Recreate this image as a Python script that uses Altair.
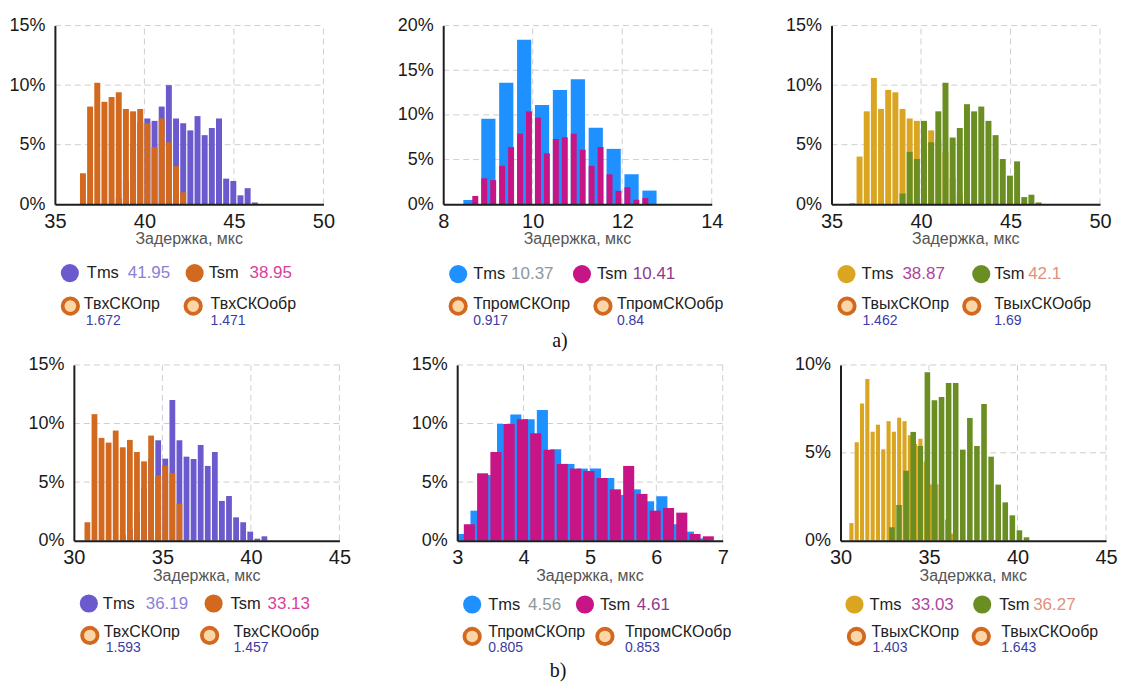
import altair as alt
import pandas as pd

SANS = "'Liberation Sans', Arial, sans-serif"
NARROW = "'Liberation Sans Narrow', 'Arial Narrow', 'Liberation Sans', sans-serif"
SERIF = "'Liberation Serif', 'DejaVu Serif', serif"

# ---------------------------------------------------------------
# Histogram data: first bin start, bin width and share of samples (%)
# ---------------------------------------------------------------
# a) input stage (Твх)
a_in_tms_start, a_in_tms_step = 38.4, 0.4
a_in_tms_pct = [0.5, 1.9, 5.0, 6.85, 7.2, 7.0, 8.2, 10.0, 7.2, 6.8, 6.2, 7.4,
                5.8, 6.4, 7.2, 2.15, 1.95, 0.75, 1.35, 0.15]
a_in_tsm_start, a_in_tsm_step = 36.4, 0.4
a_in_tsm_pct = [2.6, 8.2, 10.2, 8.6, 9.0, 9.4, 8.0, 7.8, 8.0, 6.8, 4.8, 7.2,
                5.2, 3.2, 1.0]

# a) intermediate stage (Тпром)
a_mid_tms_start, a_mid_tms_step = 8.45, 0.4
a_mid_tms_pct = [0.48, 9.57, 13.6, 18.4, 11.1, 12.8, 14.0, 8.57, 6.2, 3.35, 1.53]
a_mid_tsm_start, a_mid_tsm_step = 8.65, 0.2
a_mid_tsm_pct = [0.93, 2.9, 2.7, 4.3, 6.4, 7.9, 10.4, 9.7, 5.7, 7.3, 7.5, 7.9,
                 6.1, 4.3, 6.4, 3.35, 1.5, 1.9, 0.5, 0.7]

# a) output stage (Твых)
a_out_tms_start, a_out_tms_step = 36.0, 0.4
a_out_tms_pct = [0.1, 4.0, 7.8, 10.6, 8.0, 9.6, 9.4, 8.0, 7.2, 7.0, 6.9, 6.2,
                 5.4, 4.4, 2.2, 0.9, 0.2]
a_out_tsm_start, a_out_tsm_step = 38.8, 0.4
a_out_tsm_pct = [0.9, 4.4, 3.8, 7.0, 5.2, 7.8, 10.2, 5.6, 6.4, 8.4, 7.8, 8.2,
                 7.0, 5.8, 3.8, 2.4, 3.6, 0.6, 0.8, 0.15]

# b) input stage (Твх)
b_in_tms_start, b_in_tms_step = 32.6, 0.4
b_in_tms_pct = [0.5, 1.0, 2.5, 4.5, 7.0, 8.57, 7.0, 12.0, 8.57, 7.17, 6.97,
                8.17, 6.38, 7.57, 3.39, 3.81, 1.99, 1.57, 0.77, 0.17, 0.37]
b_in_tsm_start, b_in_tsm_step = 30.6, 0.4
b_in_tsm_pct = [1.57, 10.8, 8.77, 8.37, 9.4, 7.97, 8.6, 7.57, 6.77, 8.97, 5.58,
                6.4, 5.78, 3.16]

# b) intermediate stage (Тпром)
b_mid_tms_start, b_mid_tms_step = 3.0, 0.2
b_mid_tms_pct = [0.57, 2.56, 5.6, 9.96, 10.76, 10.36, 11.16, 7.8, 6.55, 6.15,
                 6.15, 5.35, 3.9, 4.38, 3.36, 3.79, 1.4, 0.77, 0.2]
b_mid_tsm_start, b_mid_tsm_step = 3.1, 0.2
b_mid_tsm_pct = [1.4, 5.75, 7.57, 9.96, 10.36, 9.17, 7.77, 6.55, 6.15, 5.95,
                 5.35, 4.38, 6.38, 3.99, 2.56, 2.79, 2.39, 0.57, 0.37]

# b) output stage (Твых)
b_out_tms_start, b_out_tms_step = 30.5, 0.3
b_out_tms_pct = [1.0, 5.6, 7.8, 9.2, 6.2, 6.6, 5.2, 6.8, 6.2, 7.0, 6.8, 6.0,
                 5.5, 5.8, 4.5, 3.2, 3.2, 2.0, 1.2, 0.4]
b_out_tsm_start, b_out_tsm_step = 32.75, 0.4
b_out_tsm_pct = [0.76, 2.03, 3.98, 6.19, 5.39, 9.58, 7.99, 8.18, 8.98, 8.98,
                 5.18, 6.98, 5.39, 7.78, 4.78, 3.19, 2.18, 1.44, 0.59, 0.19]

# Means and standard deviations shown under each histogram
stats_means = [("41.95", "38.95"), ("10.37", "10.41"), ("38.87", "42.1"),
               ("36.19", "33.13"), ("4.56", "4.61"), ("33.03", "36.27")]
stats_sd = [("1.672", "1.471"), ("0.917", "0.84"), ("1.462", "1.69"),
            ("1.593", "1.457"), ("0.805", "0.853"), ("1.403", "1.643")]
sd_names = [("ТвхСКОпр", "ТвхСКОобр"), ("ТпромСКОпр", "ТпромСКОобр"),
            ("ТвыхСКОпр", "ТвыхСКОобр")]

x_ticks_in = [35, 40, 45, 50]
x_ticks_mid_a = [8, 10, 12, 14]
x_ticks_b = [30, 35, 40, 45]
x_ticks_mid_b = [3, 4, 5, 6, 7]

# ---------------------------------------------------------------
# Layout: a 3 x 2 grid of cells that tile the page
# ---------------------------------------------------------------
CELL_W = [374, 374, 373]
CELL_H = [341, 341]
CELL_X = [0, 374, 748]
CELL_Y = [0, 341]

PAIR_COLORS = [("#6a5acd", "#d2691e"), ("#1e90ff", "#c71585"), ("#daa520", "#6b8e23")]
VALUE_COLORS = [("#8a7fd6", "#d8409a"), ("#8e979b", "#8e3a8f"), ("#b0449c", "#e2917d")]
SD_COLOR = "#3b3ba6"
GRID_COLOR = "#cfcfcf"
RING_STROKE = "#d2691e"
RING_FILL = "#fdd6a8"

panels = [
    dict(col=0, row=0, kind=0,
         tms=(a_in_tms_start, a_in_tms_step, a_in_tms_pct, 1.2),
         tsm=(a_in_tsm_start, a_in_tsm_step, a_in_tsm_pct, 1.2),
         xdom=[35, 50], xticks=x_ticks_in, ydom=[0, 15], yticks=[0, 5, 10, 15],
         xpix=(54, 323), ypix=(203, 24), title_y=238,
         leg=dict(d1=(69, 272), n1=86, v1=127, d2=(194, 272), n2=208, v2=249,
                  r1=(69.5, 305), l1=83, s1=85, r2=(192.5, 305), l2=210, s2=210,
                  ly=303, sy=320)),
    dict(col=1, row=0, kind=1,
         tms=(a_mid_tms_start, a_mid_tms_step, a_mid_tms_pct, 3.7),
         tsm=(a_mid_tsm_start, a_mid_tsm_step, a_mid_tsm_pct, 3.0),
         xdom=[8, 14], xticks=x_ticks_mid_a, ydom=[0, 20], yticks=[0, 5, 10, 15, 20],
         xpix=(443, 712), ypix=(203, 24), title_y=238,
         leg=dict(d1=(458, 273), n1=473, v1=511, d2=(582, 273), n2=597, v2=633,
                  r1=(458, 305), l1=473, s1=473, r2=(603, 305), l2=617, s2=617,
                  ly=303, sy=320),
         caption=("a)", 560, 340)),
    dict(col=2, row=0, kind=2,
         tms=(a_out_tms_start, a_out_tms_step, a_out_tms_pct, 1.2),
         tsm=(a_out_tsm_start, a_out_tsm_step, a_out_tsm_pct, 1.2),
         xdom=[35, 50], xticks=x_ticks_in, ydom=[0, 15], yticks=[0, 5, 10, 15],
         xpix=(832, 1101), ypix=(203, 24), title_y=238,
         leg=dict(d1=(847, 273), n1=862, v1=903, d2=(982, 273), n2=995, v2=1029,
                  r1=(847.5, 305), l1=862, s1=863, r2=(972.5, 305), l2=995, s2=995,
                  ly=303, sy=320)),
    dict(col=0, row=1, kind=0,
         tms=(b_in_tms_start, b_in_tms_step, b_in_tms_pct, 1.3),
         tsm=(b_in_tsm_start, b_in_tsm_step, b_in_tsm_pct, 1.3),
         xdom=[30, 45], xticks=x_ticks_b, ydom=[0, 15], yticks=[0, 5, 10, 15],
         xpix=(73, 339), ypix=(540, 364), title_y=575,
         leg=dict(d1=(88, 603), n1=102, v1=145, d2=(213, 603), n2=230, v2=267,
                  r1=(89, 635), l1=103, s1=105, r2=(209, 635), l2=233, s2=233,
                  ly=632, sy=648)),
    dict(col=1, row=1, kind=1,
         tms=(b_mid_tms_start, b_mid_tms_step, b_mid_tms_pct, 2.2),
         tsm=(b_mid_tsm_start, b_mid_tsm_step, b_mid_tsm_pct, 2.2),
         xdom=[3, 7], xticks=x_ticks_mid_b, ydom=[0, 15], yticks=[0, 5, 10, 15],
         xpix=(457, 723), ypix=(540, 364), title_y=575,
         leg=dict(d1=(472, 604), n1=488, v1=528, d2=(585, 604), n2=600, v2=637,
                  r1=(472, 636), l1=488, s1=488, r2=(605, 636), l2=625, s2=625,
                  ly=632, sy=648),
         caption=("b)", 558, 671)),
    dict(col=2, row=1, kind=2,
         tms=(b_out_tms_start, b_out_tms_step, b_out_tms_pct, 1.2),
         tsm=(b_out_tsm_start, b_out_tsm_step, b_out_tsm_pct, 1.5),
         xdom=[30, 45], xticks=x_ticks_b, ydom=[0, 10], yticks=[0, 5, 10],
         xpix=(841, 1107), ypix=(540, 364), title_y=575,
         leg=dict(d1=(855, 604), n1=870, v1=912, d2=(983, 604), n2=1000, v2=1034,
                  r1=(857, 636), l1=872, s1=873, r2=(982, 636), l2=1002, s2=1002,
                  ly=632, sy=648)),
]

ONE = pd.DataFrame({"k": [0]})


def bins(start, step, pct):
    left = [start + i * step for i in range(len(pct))]
    return pd.DataFrame({"x0": left, "x1": [v + step for v in left], "pct": pct})


def text_at(text, x, y, size, color, font=SANS, align="left"):
    return alt.Chart(ONE).mark_text(
        text=text, align=align, baseline="middle", font=font,
        fontSize=size, color=color,
    ).encode(x=alt.value(x), y=alt.value(y))


def dot_at(x, y, color):
    return alt.Chart(ONE).mark_circle(size=330, color=color, opacity=1).encode(
        x=alt.value(x), y=alt.value(y))


def ring_at(x, y):
    return alt.Chart(ONE).mark_circle(
        size=240, fill=RING_FILL, stroke=RING_STROKE, strokeWidth=3.8,
        opacity=1, fillOpacity=1, strokeOpacity=1,
    ).encode(x=alt.value(x), y=alt.value(y))


def build_panel(i, cfg):
    x0, y0 = CELL_X[cfg["col"]], CELL_Y[cfg["row"]]
    W, H = CELL_W[cfg["col"]], CELL_H[cfg["row"]]
    xl, xr = cfg["xpix"]
    yb, yt = cfg["ypix"]
    kind = cfg["kind"]

    xs = alt.Scale(domain=cfg["xdom"], range=[xl - x0, xr - x0], nice=False, zero=False)
    ys = alt.Scale(domain=cfg["ydom"], range=[yb - y0, yt - y0], nice=False, zero=False)

    x_axis = alt.Axis(
        values=cfg["xticks"], title=None, grid=False, ticks=False, tickSize=0,
        domainColor="#1e1e1e", domainWidth=2, labelFont=NARROW, labelFontSize=20,
        labelColor="#1a1a1a", labelPadding=7, labelFlush=False, labelOverlap=False,
        offset=(yb - y0) - H, zindex=1, format="d",
    )
    y_axis = alt.Axis(
        values=cfg["yticks"], title=None, grid=False, ticks=False, tickSize=0,
        domainColor="#1e1e1e", domainWidth=2, labelFont=NARROW, labelFontSize=18,
        labelColor="#1a1a1a", labelPadding=10, labelOverlap=False,
        labelExpr="datum.value + '%'", offset=-(xl - x0), zindex=1,
    )

    # dashed grid, drawn first so the bars cover it
    vgrid = pd.DataFrame({"v": cfg["xticks"][1:], "lo": cfg["ydom"][0], "hi": cfg["ydom"][1]})
    hgrid = pd.DataFrame({"v": cfg["yticks"][1:], "lo": cfg["xdom"][0], "hi": cfg["xdom"][1]})
    grid_style = dict(color=GRID_COLOR, strokeDash=[6, 4], strokeWidth=1)
    layers = [
        alt.Chart(vgrid).mark_rule(**grid_style).encode(
            x=alt.X("v:Q", scale=xs, axis=x_axis),
            y=alt.Y("lo:Q", scale=ys, axis=y_axis), y2="hi:Q"),
        alt.Chart(hgrid).mark_rule(**grid_style).encode(
            y=alt.Y("v:Q", scale=ys, axis=y_axis),
            x=alt.X("lo:Q", scale=xs, axis=x_axis), x2="hi:Q"),
    ]

    # bars: Tms behind, Tsm in front
    for key, color in zip(("tms", "tsm"), PAIR_COLORS[kind]):
        start, step, pct, gap = cfg[key]
        layers.append(
            alt.Chart(bins(start, step, pct)).mark_rect(color=color, x2Offset=-gap).encode(
                x=alt.X("x0:Q", scale=xs, axis=x_axis),
                x2="x1:Q",
                y=alt.Y("pct:Q", scale=ys, axis=y_axis),
                y2=alt.datum(0),
            )
        )

    # axis title
    layers.append(text_at("Задержка, мкс", (xl + xr) / 2 - x0, cfg["title_y"] - y0,
                          16, "#555555", align="center"))

    # legend with statistics
    lg = cfg["leg"]
    c_tms, c_tsm = PAIR_COLORS[kind]
    v_tms, v_tsm = VALUE_COLORS[kind]
    m_tms, m_tsm = stats_means[i]
    s1, s2 = stats_sd[i]
    n1, n2 = sd_names[kind]
    ya = lg["d1"][1] - y0
    layers += [
        dot_at(lg["d1"][0] - x0, ya, c_tms),
        text_at("Tms", lg["n1"] - x0, ya, 16.5, "#222222"),
        text_at(m_tms, lg["v1"] - x0, ya, 17, v_tms),
        dot_at(lg["d2"][0] - x0, lg["d2"][1] - y0, c_tsm),
        text_at("Tsm", lg["n2"] - x0, ya, 16.5, "#222222"),
        text_at(m_tsm, lg["v2"] - x0, ya, 17, v_tsm),
        ring_at(lg["r1"][0] - x0, lg["r1"][1] - y0),
        text_at(n1, lg["l1"] - x0, lg["ly"] - y0, 16, "#222222"),
        text_at(s1, lg["s1"] - x0, lg["sy"] - y0, 14, SD_COLOR),
        ring_at(lg["r2"][0] - x0, lg["r2"][1] - y0),
        text_at(n2, lg["l2"] - x0, lg["ly"] - y0, 16, "#222222"),
        text_at(s2, lg["s2"] - x0, lg["sy"] - y0, 14, SD_COLOR),
    ]

    if "caption" in cfg:
        cap, cx, cy = cfg["caption"]
        layers.append(text_at(cap, cx - x0, cy - y0, 20, "#111111", font=SERIF, align="center"))

    return alt.layer(*layers).properties(width=W, height=H)


cells = [build_panel(i, cfg) for i, cfg in enumerate(panels)]

chart = (
    alt.concat(*cells, columns=3, spacing=0, bounds="flush")
    .properties(padding=0, background="white")
    .configure_view(stroke="transparent")
)

chart.save("out.html", embed_options={"renderer": "svg", "actions": False})
